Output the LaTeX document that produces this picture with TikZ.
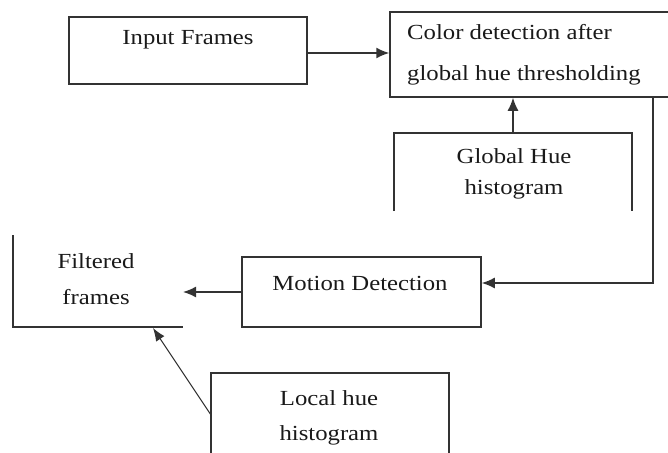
\documentclass[tikz,border=0pt]{standalone}
\usepackage{fontspec}
\setmainfont{Liberation Serif}[FakeStretch=1.15]
\usetikzlibrary{arrows.meta}
\begin{document}
\begin{tikzpicture}[x=1pt,y=-1pt,
  ln/.style={draw=black!80, line width=1.5pt},
  boxn/.style={ln, rectangle, inner sep=0pt},
  lbl/.style={anchor=base, inner sep=0pt, font=\fontsize{21.5}{26}\selectfont, text=black!90},
  arr/.style={ln, -{Latex[length=13pt,width=11pt]}},
  thinarr/.style={draw=black!80, line width=1pt, -{Latex[length=13pt,width=10pt]}}]
\useasboundingbox (0,0) rectangle (668,452);
\clip (0,0) rectangle (668,452);
% boxes
\node[boxn, minimum width=300pt, minimum height=85pt] (col) at (540,54.5) {};
\node[boxn, minimum width=238pt, minimum height=67pt] (inp) at (188,50.5) {};
\node[boxn, minimum width=239pt, minimum height=70pt] (mot) at (361.5,292) {};
% open boxes
\coordinate (ghbl) at (394,211);
\coordinate (ghtl) at (394,133);
\coordinate (ghtr) at (632,133);
\coordinate (ghbr) at (632,211);
\coordinate (ghtop) at (513,133);
\draw[ln] (ghbl) -- (ghtl) -- (ghtr) -- (ghbr);
\coordinate (fftl) at (13,235);
\coordinate (ffbl) at (13,327);
\coordinate (ffbr) at (183,327);
\draw[ln] (fftl) -- (ffbl) -- (ffbr);
\coordinate (lhbl) at (211,460);
\coordinate (lhtl) at (211,373);
\coordinate (lhtr) at (449,373);
\coordinate (lhbr) at (449,460);
\coordinate (lhside) at (211,415);
\coordinate (fftip) at (153,328);
\draw[ln] (lhbl) -- (lhtl) -- (lhtr) -- (lhbr);
% texts
\node[lbl] (tinp) at (188,45) {Input Frames};
\node[lbl, anchor=base west] (tcol1) at (407,40) {Color detection after};
\node[lbl, anchor=base west] (tcol2) at (407,80) {global hue thresholding};
\node[lbl] (tgh1) at (514,163) {Global Hue};
\node[lbl] (tgh2) at (514,194) {histogram};
\node[lbl] (tmot) at (360,290) {Motion Detection};
\node[lbl] (tff1) at (96,268) {Filtered};
\node[lbl] (tff2) at (96,304) {frames};
\node[lbl] (tlh1) at (329,405) {Local hue};
\node[lbl] (tlh2) at (329,440) {histogram};
% connectors
\draw[arr] ([yshift=-2.5pt]inp.east) -- ([yshift=-2.5pt]inp.east -| col.west);
\draw[arr] (ghtop) -- (ghtop |- col.south);
\coordinate (bend) at (653,283);
\draw[arr] (bend |- col.south) -- (bend) -- (bend -| mot.east);
\draw[arr] (mot.west) -- (mot.west -| ffbr);
\draw[thinarr] (lhside) -- (fftip);
\end{tikzpicture}
\end{document}
